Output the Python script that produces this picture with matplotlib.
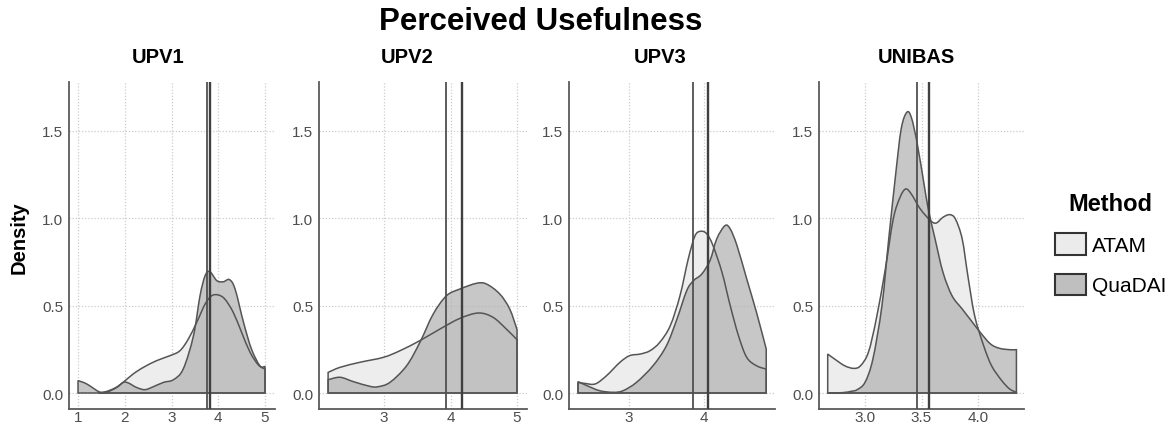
import numpy as np
import matplotlib
matplotlib.use("Agg")
import matplotlib.pyplot as plt
from matplotlib.patches import Patch, PathPatch
from matplotlib.path import Path

plt.rcParams['font.family'] = ['Liberation Sans', 'DejaVu Sans']

# density curves: (x, density) per group and site
sites = ["UPV1", "UPV2", "UPV3", "UNIBAS"]

upv1_atam_x = [1.45, 1.6, 1.8, 1.97, 2.18, 2.40, 2.68, 2.97, 3.18, 3.36, 3.54, 3.72, 3.86, 4.0, 4.14, 4.32, 4.50, 4.68, 4.86, 5.0]
upv1_atam_y = [0.003, 0.008, 0.03, 0.062, 0.109, 0.147, 0.185, 0.214, 0.242, 0.309, 0.405, 0.51, 0.557, 0.561, 0.538, 0.462, 0.347, 0.233, 0.160, 0.137]
upv1_quad_x = [1.0, 1.185, 1.47, 1.61, 1.83, 1.97, 2.08, 2.25, 2.43, 2.61, 2.83, 3.04, 3.25, 3.47, 3.61, 3.72, 3.82, 3.97, 4.11, 4.24, 4.36, 4.54, 4.71, 4.89, 5.0]
upv1_quad_y = [0.071, 0.052, 0.004, 0.004, 0.032, 0.061, 0.057, 0.032, 0.019, 0.036, 0.061, 0.076, 0.137, 0.328, 0.557, 0.672, 0.695, 0.643, 0.637, 0.649, 0.595, 0.405, 0.252, 0.156, 0.152]

upv2_atam_x = [2.16, 2.34, 2.64, 2.99, 3.24, 3.54, 3.84, 4.14, 4.42, 4.64, 4.84, 5.0]
upv2_atam_y = [0.118, 0.147, 0.176, 0.204, 0.242, 0.30, 0.366, 0.427, 0.458, 0.433, 0.366, 0.305]
upv2_quad_x = [2.16, 2.34, 2.54, 2.79, 2.91, 3.09, 3.34, 3.54, 3.74, 3.94, 4.14, 4.39, 4.54, 4.74, 4.89, 5.0]
upv2_quad_y = [0.076, 0.09, 0.065, 0.038, 0.036, 0.061, 0.156, 0.29, 0.452, 0.557, 0.595, 0.628, 0.624, 0.567, 0.481, 0.363]

upv3_atam_x = [2.32, 2.41, 2.55, 2.70, 2.88, 3.01, 3.15, 3.28, 3.41, 3.55, 3.68, 3.79, 3.88, 3.96, 4.04, 4.12, 4.24, 4.35, 4.46, 4.57, 4.70, 4.83]
upv3_atam_y = [0.061, 0.055, 0.052, 0.099, 0.176, 0.214, 0.223, 0.242, 0.29, 0.385, 0.557, 0.767, 0.90, 0.926, 0.91, 0.844, 0.691, 0.50, 0.328, 0.204, 0.156, 0.137]
upv3_quad_x = [2.32, 2.44, 2.61, 2.79, 2.92, 3.10, 3.32, 3.50, 3.64, 3.77, 3.86, 3.97, 4.08, 4.17, 4.28, 4.35, 4.44, 4.57, 4.70, 4.83]
upv3_quad_y = [0.065, 0.042, 0.013, 0.004, 0.013, 0.061, 0.156, 0.271, 0.424, 0.586, 0.643, 0.681, 0.758, 0.882, 0.958, 0.939, 0.844, 0.653, 0.462, 0.252]

unibas_atam_x = [2.67, 2.73, 2.82, 2.90, 2.96, 3.03, 3.10, 3.18, 3.25, 3.31, 3.36, 3.41, 3.49, 3.58, 3.63, 3.69, 3.75, 3.80, 3.86, 3.91, 3.97, 4.05, 4.12, 4.21, 4.28, 4.34]
unibas_atam_y = [0.223, 0.195, 0.156, 0.141, 0.156, 0.233, 0.424, 0.71, 0.996, 1.12, 1.168, 1.139, 1.053, 0.987, 0.973, 1.006, 1.021, 0.996, 0.882, 0.672, 0.443, 0.271, 0.156, 0.071, 0.023, 0.004]
unibas_quad_x = [2.67, 2.80, 2.88, 2.93, 3.0, 3.07, 3.15, 3.21, 3.27, 3.32, 3.37, 3.41, 3.46, 3.52, 3.56, 3.62, 3.69, 3.77, 3.86, 3.94, 4.02, 4.11, 4.19, 4.28, 4.34]
unibas_quad_y = [0.0, 0.002, 0.01, 0.019, 0.061, 0.195, 0.50, 0.882, 1.244, 1.511, 1.607, 1.578, 1.435, 1.206, 1.053, 0.882, 0.691, 0.557, 0.481, 0.414, 0.347, 0.281, 0.256, 0.248, 0.248]

# group means (vertical lines): ATAM, QuaDAI
means = [[3.75, 3.83], [3.93, 4.17], [3.85, 4.06], [3.46, 3.57]]

x_ticks = [[1, 2, 3, 4, 5], [3, 4, 5], [3, 4], [3.0, 3.5, 4.0]]
x_ticklabels = [["1", "2", "3", "4", "5"], ["3", "4", "5"], ["3", "4"], ["3.0", "3.5", "4.0"]]
x_limits = [(0.807, 5.214), (2.023, 5.150), (2.2, 4.947), (2.593, 4.407)]

curves = [
    (upv1_atam_x, upv1_atam_y, upv1_quad_x, upv1_quad_y),
    (upv2_atam_x, upv2_atam_y, upv2_quad_x, upv2_quad_y),
    (upv3_atam_x, upv3_atam_y, upv3_quad_x, upv3_quad_y),
    (unibas_atam_x, unibas_atam_y, unibas_quad_x, unibas_quad_y),
]

atam_fill = '#ededed'
quad_fill = '#b0b0b0'
edge = '#555555'


def density_path(x, y):
    # smooth outline through the read points (Catmull-Rom as cubic Bezier),
    # closed down to the baseline like geom_density
    x = np.asarray(x, float); y = np.asarray(y, float)
    verts = [(x[0], 0.0), (x[0], y[0])]
    codes = [Path.MOVETO, Path.LINETO]
    n = len(x)
    for k in range(n - 1):
        p0 = np.array([x[max(k - 1, 0)], y[max(k - 1, 0)]])
        p1 = np.array([x[k], y[k]])
        p2 = np.array([x[k + 1], y[k + 1]])
        p3 = np.array([x[min(k + 2, n - 1)], y[min(k + 2, n - 1)]])
        c1 = p1 + (p2 - p0) / 6
        c2 = p2 - (p3 - p1) / 6
        c1[1] = max(c1[1], 0); c2[1] = max(c2[1], 0)
        verts += [tuple(c1), tuple(c2), tuple(p2)]
        codes += [Path.CURVE4] * 3
    verts += [(x[-1], 0.0), (x[0], 0.0)]
    codes += [Path.LINETO, Path.CLOSEPOLY]
    return Path(verts, codes)


W, H = 1174, 427
fig = plt.figure(figsize=(W / 100, H / 100), dpi=100)

panel_left = [69, 319, 569, 819]
panel_w = [206, 208, 206, 205]
ax_bottom = 1 - 410 / H
ax_height = (410 - 83) / H

for i in range(4):
    ax = fig.add_axes([panel_left[i] / W, ax_bottom, panel_w[i] / W, ax_height])
    atx, aty, qx, qy = curves[i]
    pa = density_path(atx, aty)
    pq = density_path(qx, qy)
    ax.add_patch(PathPatch(pa, facecolor=atam_fill, edgecolor='none', zorder=2))
    ax.add_patch(PathPatch(pq, facecolor=quad_fill, alpha=0.7, edgecolor='none', zorder=3))
    ax.add_patch(PathPatch(pa, facecolor='none', edgecolor=edge, lw=1.1, zorder=4))
    ax.add_patch(PathPatch(pq, facecolor='none', edgecolor=edge, lw=1.1, zorder=4))

    ax.axvline(means[i][0], color='#505050', lw=1.3, zorder=5)
    ax.axvline(means[i][1], color='#404040', lw=1.7, zorder=5)

    ax.set_xlim(*x_limits[i])
    ax.set_ylim(-0.0916, 1.7805)
    ax.set_xticks(x_ticks[i])
    ax.set_xticklabels(x_ticklabels[i])
    ax.set_yticks([0, 0.5, 1.0, 1.5])
    ax.set_yticklabels(["0.0", "0.5", "1.0", "1.5"])
    ax.grid(True, color='#cccccc', linestyle=(0, (1, 1.5)), lw=0.9, zorder=0)
    for s in ['top', 'right']:
        ax.spines[s].set_visible(False)
    for s in ['left', 'bottom']:
        ax.spines[s].set_color('#5a5a5a')
        ax.spines[s].set_linewidth(1.3)
    ax.tick_params(axis='x', length=0, pad=1, labelsize=11, labelcolor='#4d4d4d')
    ax.tick_params(axis='y', length=0, pad=4, labelsize=11, labelcolor='#4d4d4d')

title_x = [158, 407, 660, 916]
for i in range(4):
    fig.text(title_x[i] / W, 1 - 63 / H, sites[i], ha='center', va='baseline',
             fontsize=14.5, fontweight='bold')

fig.text(541 / W, 1 - 30 / H, "Perceived Usefulness", ha='center', va='baseline',
         fontsize=22.5, fontweight='bold')
fig.text(19 / W, 1 - 238 / H, "Density", rotation=90, ha='center', va='center',
         fontsize=14.5, fontweight='bold')

handles = [Patch(facecolor='#ebebeb', edgecolor='#333333', lw=1.5),
           Patch(facecolor='#bfbfbf', edgecolor='#333333', lw=1.5)]
leg = fig.legend(handles, ["ATAM", "QuaDAI"], loc='upper left',
                 bbox_to_anchor=(1040 / W, 1 - 178 / H), frameon=False,
                 fontsize=15, title="Method",
                 title_fontproperties={'weight': 'bold', 'size': 17},
                 handlelength=1.5, handleheight=1.2, handletextpad=0.3,
                 labelspacing=0.9, borderpad=0.2)
leg._legend_box.align = "center"

fig.savefig("out.png", dpi=100)
